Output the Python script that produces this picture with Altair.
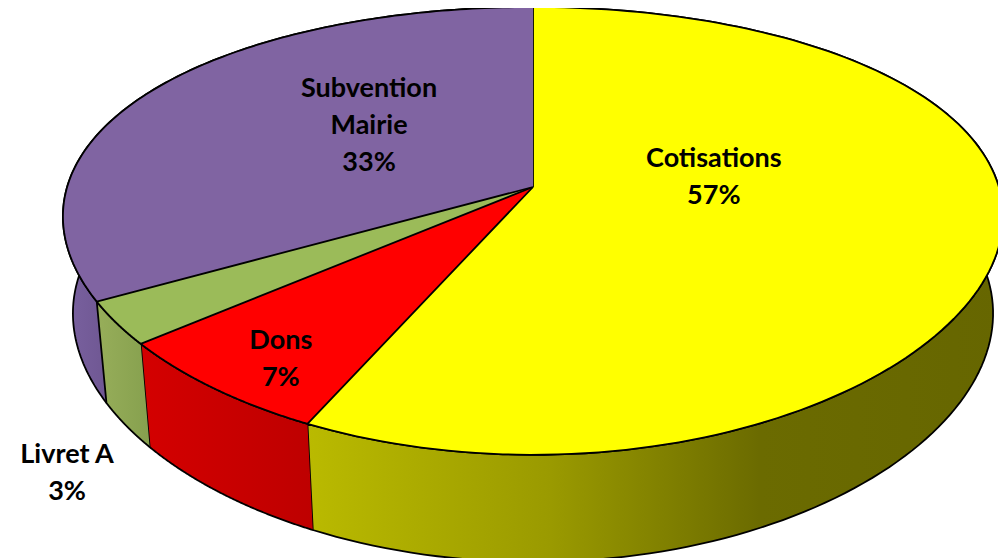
import altair as alt
import pandas as pd

# ---- data ----
categories = ["Cotisations", "Dons", "Livret A", "Subvention Mairie"]
values = [57, 7, 3, 33]

# ---- styling ----
top_colors = {
    "Cotisations": "#FFFF00",
    "Dons": "#FF0000",
    "Livret A": "#9BBB59",
    "Subvention Mairie": "#8064A2",
}
wall_stops = {
    "Cotisations": [("#BABA00", 0.0), ("#9A9A00", 0.35), ("#6B6B00", 0.65), ("#666600", 1.0)],
    "Dons": [("#D40000", 0.0), ("#BE0000", 1.0)],
    "Livret A": [("#97AE5A", 0.0), ("#86A04E", 1.0)],
    "Subvention Mairie": [("#7A62A0", 0.0), ("#6C548F", 0.12), ("#6C548F", 1.0)],
}
# label placement relative to each slice: (angle offset in degrees, radius fraction)
label_layout = {
    "Cotisations": (19.1, 0.393),
    "Dons": (2.5, 0.85),
    "Livret A": (16.6, 1.36),
    "Subvention Mairie": (-8.7, 0.473),
}
LINE_H = 37

W, H = 990, 550
# perspective projection of the 3D pie (chart pixel space)
CX, CY = 525, 179      # projected centre of the pie top
KX, PX, VX = 7.5, 3494, 0.16   # horizontal: distance, scale, thickness shrink
KY, QY = 5.1, 1098             # vertical: distance, scale
U, V = 0.4625, 0.182           # vertical thickness terms
N = 140                        # points per arc

df = pd.DataFrame({"category": categories, "value": values, "k": list(range(len(categories)))})

xs = alt.Scale(domain=[0, W], nice=False, zero=False)
ys = alt.Scale(domain=[0, H], nice=False, zero=False, reverse=True)

base = (
    alt.Chart(df)
    .transform_joinaggregate(total="sum(value)")
    .transform_window(cum="sum(value)", sort=[alt.SortField("k")], frame=[None, 0])
    .transform_calculate(
        a0="PI/2 - 2*PI*(datum.cum - datum.value)/datum.total",
        a1="PI/2 - 2*PI*datum.cum/datum.total",
    )
)

def project(chart, bottom="0"):
    return chart.transform_calculate(
        px=f"{CX} + {PX}*datum.X/({KX} + datum.Z + {VX}*({bottom}))",
        py=f"{CY} + {QY}*({U}*({bottom}) - datum.Z)/({KY} + datum.Z + {V}*({bottom}))",
    )

tops = project(
    base.transform_calculate(idx=f"sequence(-1, {N + 1})")
    .transform_flatten(["idx"])
    .transform_calculate(
        t=f"datum.a0 + (datum.a1 - datum.a0)*max(datum.idx, 0)/{N}",
        r="datum.idx < 0 ? 0 : 1",
    )
    .transform_calculate(X="datum.r*cos(datum.t)", Z="datum.r*sin(datum.t)")
)

walls = project(
    base.transform_calculate(idx=f"sequence(0, {2 * N + 2})")
    .transform_flatten(["idx"])
    .transform_calculate(
        b=f"datum.idx > {N} ? 1 : 0",
        s=f"datum.idx > {N} ? {2 * N + 1} - datum.idx : datum.idx",
    )
    .transform_calculate(t=f"datum.a0 + (datum.a1 - datum.a0)*datum.s/{N}")
    .transform_calculate(X="cos(datum.t)", Z="sin(datum.t)"),
    bottom="datum.b",
)

enc = dict(
    x=alt.X("px:Q", scale=xs, axis=None),
    y=alt.Y("py:Q", scale=ys, axis=None),
    order=alt.Order("idx:Q"),
)

layers = []
for cat in ["Cotisations", "Subvention Mairie", "Dons", "Livret A"]:
    grad = {
        "gradient": "linear",
        "x1": 0, "y1": 0, "x2": 1, "y2": 0,
        "stops": [{"color": c, "offset": o} for c, o in wall_stops[cat]],
    }
    layers.append(
        walls.transform_filter(alt.datum.category == cat)
        .mark_line(fill=grad, stroke="black", strokeWidth=1.8, strokeJoin="round")
        .encode(**enc)
    )
for cat in categories:
    layers.append(
        tops.transform_filter(alt.datum.category == cat)
        .mark_line(fill=top_colors[cat], stroke="black", strokeWidth=1.8, strokeJoin="round")
        .encode(**enc)
    )

off_expr = " : ".join(f"datum.category == '{c}' ? {a}" for c, (a, _) in label_layout.items()) + " : 0"
rad_expr = " : ".join(f"datum.category == '{c}' ? {r}" for c, (_, r) in label_layout.items()) + " : 0.5"

labels = (
    project(
        base.transform_calculate(
            lt=f"(datum.a0 + datum.a1)/2 + ({off_expr})*PI/180",
            lr=rad_expr,
            label="(datum.category == 'Subvention Mairie' ? 'Subvention|Mairie' : datum.category) + '|' + datum.value + '%'",
        ).transform_calculate(
            X="datum.lr*cos(datum.lt)",
            Z="datum.lr*sin(datum.lt)",
            nl="length(split(datum.label, '|'))",
        )
    )
    .transform_calculate(ty=f"datum.py - (datum.nl - 1)*{LINE_H}/2")
    .mark_text(
        font="Lato", fontSize=27, fontWeight="bold", color="black",
        lineBreak="|", lineHeight=LINE_H, align="center", baseline="middle",
    )
    .encode(
        x=alt.X("px:Q", scale=xs, axis=None),
        y=alt.Y("ty:Q", scale=ys, axis=None),
        text="label:N",
    )
)
layers.append(labels)

chart = (
    alt.layer(*layers)
    .properties(width=W, height=H, padding=0, autosize=alt.AutoSizeParams(type="none"))
    .configure_view(stroke=None)
)

chart.save("out.html", embed_options={"renderer": "svg", "actions": False})
